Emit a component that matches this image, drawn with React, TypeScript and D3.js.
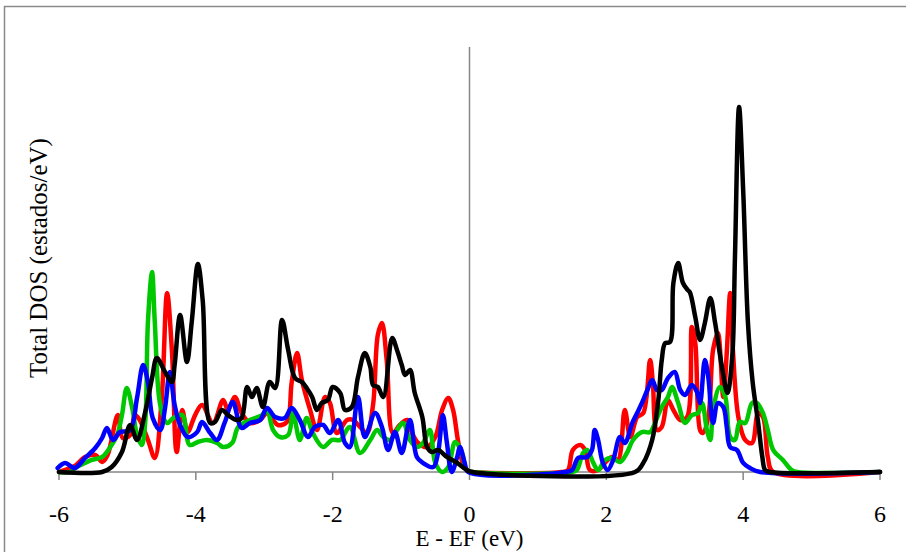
import React from "react";
import * as d3 from "d3";

// x: energy E - EF (eV), y: total DOS (estados/eV)
const xTicks = [-6, -4, -2, 0, 2, 4, 6];

const redSeries: [number, number][] = [
  [-6.0, 0], [-5.96, 0.07], [-5.77, 0.42], [-5.62, 1.06], [-5.47, 1.2], [-5.37, 0.71], [-5.29, 1.2],
  [-5.14, 4.02], [-5.07, 2.4], [-4.96, 2.61], [-4.89, 4.02], [-4.82, 3.67], [-4.7, 2.26], [-4.6, 0.99],
  [-4.5, 5.08], [-4.42, 12.63], [-4.35, 8.61], [-4.28, 1.41], [-4.2, 4.38], [-4.12, 2.82], [-4.01, 4.02],
  [-3.91, 4.73], [-3.75, 3.46], [-3.6, 5.08], [-3.53, 4.38], [-3.43, 5.29], [-3.33, 4.16], [-3.21, 3.46],
  [-3.06, 3.67], [-2.96, 4.16], [-2.87, 3.67], [-2.8, 3.32], [-2.67, 3.53], [-2.6, 6.28], [-2.52, 8.4],
  [-2.45, 6.49], [-2.33, 4.38], [-2.23, 2.96], [-2.11, 5.29], [-2.04, 4.87], [-1.94, 2.75], [-1.79, 3.67],
  [-1.7, 3.67], [-1.6, 3.18], [-1.5, 2.75], [-1.41, 4.73], [-1.34, 9.67], [-1.28, 10.52], [-1.21, 7.9],
  [-1.12, 2.75], [-1.02, 3.32], [-0.91, 3.67], [-0.84, 2.75], [-0.75, 2.05], [-0.62, 1.76], [-0.5, 2.47],
  [-0.4, 4.38], [-0.31, 5.22], [-0.24, 4.38], [-0.17, 2.26], [-0.1, 0.64], [-0.02, 0.07], [0.04, 0],
  [1.35, 0], [1.44, 0.14], [1.51, 1.55], [1.62, 1.91], [1.69, 1.55], [1.76, 0.14], [1.88, 0.14],
  [1.98, 0.64], [2.08, 1.06], [2.17, 0.85], [2.27, 4.38], [2.35, 2.47], [2.45, 3.88], [2.54, 4.16],
  [2.64, 7.9], [2.68, 6.28], [2.74, 2.96], [2.81, 3.18], [2.9, 5.08], [2.98, 4.38], [3.08, 3.67],
  [3.18, 3.88], [3.25, 10.23], [3.3, 9.1], [3.37, 2.96], [3.41, 2.75], [3.49, 3.88], [3.56, 8.61],
  [3.63, 9.81], [3.71, 5.29], [3.76, 8.4], [3.81, 12.63], [3.85, 8.61], [3.93, 3.88], [4.03, 2.26],
  [4.13, 2.05], [4.22, 4.16], [4.29, 3.88], [4.36, 1.06], [4.44, 0], [6.0, 0],
];

const greenSeries: [number, number][] = [
  [-6.0, 0], [-5.84, 0], [-5.77, 0.28], [-5.62, 0.64], [-5.52, 0.85], [-5.37, 1.06], [-5.26, 1.69],
  [-5.15, 2.61], [-5.08, 4.02], [-5.01, 5.93], [-4.93, 4.52], [-4.86, 2.61], [-4.79, 1.91], [-4.74, 3.53],
  [-4.7, 10.59], [-4.64, 14.11], [-4.6, 10.59], [-4.52, 4.73], [-4.42, 3.46], [-4.33, 3.81], [-4.2, 4.02],
  [-4.09, 1.91], [-3.97, 2.12], [-3.84, 2.26], [-3.69, 2.05], [-3.6, 1.76], [-3.47, 2.05], [-3.38, 3.18],
  [-3.21, 3.67], [-3.03, 4.02], [-2.96, 4.38], [-2.87, 2.96], [-2.77, 2.47], [-2.65, 2.61], [-2.58, 4.16],
  [-2.48, 2.26], [-2.38, 3.81], [-2.29, 2.75], [-2.14, 1.76], [-2.01, 2.26], [-1.89, 2.26], [-1.75, 3.18],
  [-1.6, 1.34], [-1.45, 2.26], [-1.35, 2.96], [-1.26, 2.47], [-1.16, 2.26], [-1.06, 2.96], [-0.97, 3.46],
  [-0.87, 2.26], [-0.77, 1.76], [-0.68, 2.05], [-0.58, 2.96], [-0.5, 0.64], [-0.4, 0], [-0.31, 0.35],
  [-0.21, 2.12], [-0.11, 1.34], [-0.04, 0.14], [0.04, 0],
  [1.5, 0], [1.57, 0.14], [1.66, 1.34], [1.72, 1.55], [1.81, 0.64], [1.88, 0.14], [1.98, 0.85],
  [2.08, 0.99], [2.2, 0.71], [2.3, 1.34], [2.39, 2.26], [2.52, 2.82], [2.64, 2.82], [2.71, 3.46],
  [2.81, 4.59], [2.9, 5.29], [2.96, 6.0], [3.05, 4.87], [3.15, 3.46], [3.25, 4.02], [3.34, 4.16],
  [3.4, 4.87], [3.47, 2.96], [3.52, 2.26], [3.56, 4.38], [3.66, 6.0], [3.74, 5.29], [3.81, 2.47],
  [3.88, 2.26], [3.95, 3.53], [4.03, 3.46], [4.13, 4.87], [4.2, 4.87], [4.29, 4.16], [4.36, 2.96],
  [4.44, 1.55], [4.58, 0.85], [4.71, 0.14], [4.79, 0], [6.0, 0],
];

const blueSeries: [number, number][] = [
  [-6.02, 0.28], [-5.91, 0.64], [-5.77, 0.28], [-5.62, 0.99], [-5.47, 1.69], [-5.37, 2.4], [-5.3, 3.11],
  [-5.21, 2.26], [-5.11, 2.82], [-4.96, 2.96], [-4.86, 5.22], [-4.77, 7.55], [-4.7, 6.35], [-4.63, 3.81],
  [-4.52, 2.96], [-4.45, 4.52], [-4.38, 7.06], [-4.31, 4.73], [-4.23, 3.32], [-4.12, 2.47], [-3.98, 2.82],
  [-3.91, 3.53], [-3.79, 2.75], [-3.69, 2.26], [-3.58, 3.46], [-3.46, 4.94], [-3.33, 3.11], [-3.21, 3.46],
  [-3.06, 3.67], [-2.96, 4.52], [-2.84, 3.88], [-2.7, 3.81], [-2.6, 4.52], [-2.48, 3.67], [-2.36, 2.47],
  [-2.26, 3.18], [-2.14, 3.32], [-2.04, 2.75], [-1.92, 3.67], [-1.82, 2.05], [-1.75, 1.76], [-1.63, 5.29],
  [-1.53, 2.47], [-1.38, 4.16], [-1.28, 3.18], [-1.19, 1.55], [-1.09, 2.82], [-0.99, 1.34], [-0.87, 3.67],
  [-0.77, 1.06], [-0.68, 0.64], [-0.53, 0.35], [-0.46, 1.34], [-0.39, 4.02], [-0.33, 2.05], [-0.26, 0],
  [-0.18, 1.06], [-0.14, 1.76], [-0.07, 0.64], [-0.02, 0],
  [1.41, 0], [1.5, 0.14], [1.59, 0.99], [1.72, 1.06], [1.79, 1.55], [1.83, 2.96], [1.88, 2.26],
  [1.95, 0.64], [2.02, 0.14], [2.1, 0.85], [2.2, 2.47], [2.27, 2.05], [2.38, 3.46], [2.45, 4.16],
  [2.52, 4.87], [2.6, 5.79], [2.67, 6.49], [2.74, 5.79], [2.81, 5.79], [2.9, 6.63], [3.0, 7.06],
  [3.08, 5.79], [3.15, 5.43], [3.25, 6.14], [3.33, 5.58], [3.37, 4.87], [3.44, 7.9], [3.49, 6.7],
  [3.56, 3.46], [3.63, 4.87], [3.71, 4.59], [3.76, 3.18], [3.81, 1.76], [3.91, 1.55], [4.0, 0.64],
  [4.1, 0.28], [4.25, 0], [6.0, 0],
];

const blackSeries: [number, number][] = [
  [-6.0, 0], [-5.37, 0], [-5.23, 0.35], [-5.08, 1.41], [-4.96, 3.32], [-4.86, 2.26], [-4.74, 4.23],
  [-4.64, 6.63], [-4.57, 8.05], [-4.45, 7.06], [-4.35, 6.35], [-4.31, 7.55], [-4.23, 11.08], [-4.13, 7.76],
  [-4.06, 10.59], [-3.97, 14.68], [-3.9, 12.14], [-3.79, 3.46], [-3.72, 3.53], [-3.62, 4.38], [-3.53, 4.02],
  [-3.4, 3.67], [-3.33, 3.81], [-3.25, 6.0], [-3.18, 5.29], [-3.11, 5.93], [-3.02, 4.59], [-2.92, 6.35],
  [-2.84, 5.93], [-2.74, 10.73], [-2.65, 8.61], [-2.55, 6.63], [-2.45, 6.35], [-2.38, 5.93], [-2.3, 5.29],
  [-2.23, 4.38], [-2.16, 4.87], [-2.07, 5.08], [-2.0, 6.0], [-1.89, 5.58], [-1.82, 4.38], [-1.72, 4.59],
  [-1.63, 6.7], [-1.53, 8.4], [-1.45, 7.41], [-1.41, 6.14], [-1.34, 6.0], [-1.26, 5.29], [-1.13, 9.46],
  [-1.06, 8.61], [-0.99, 7.55], [-0.94, 6.85], [-0.87, 7.2], [-0.8, 5.58], [-0.69, 3.88], [-0.62, 1.76],
  [-0.55, 1.41], [-0.46, 1.55], [-0.33, 1.06], [-0.18, 0.64], [-0.04, 0.14], [0.04, 0],
  [2.42, 0], [2.54, 0.64], [2.67, 2.26], [2.76, 5.08], [2.81, 7.9], [2.86, 9.1], [2.93, 9.17],
  [2.98, 13.34], [3.05, 14.75], [3.12, 13.34], [3.19, 12.84], [3.22, 12.7], [3.3, 10.94], [3.37, 9.32],
  [3.44, 10.52], [3.52, 12.28], [3.59, 10.52], [3.69, 7.41], [3.77, 5.58], [3.84, 8.12], [3.88, 15.17],
  [3.94, 25.76], [4.0, 19.9], [4.07, 10.52], [4.14, 6.28], [4.22, 3.46], [4.28, 1.06], [4.32, 0.14],
  [4.39, 0], [6.0, 0],
];

const seriesList: { data: [number, number][]; color: string }[] = [
  { data: redSeries, color: "#ff0000" },
  { data: greenSeries, color: "#00c800" },
  { data: blueSeries, color: "#0000ff" },
  { data: blackSeries, color: "#000000" },
];

const W = 906;
const H = 552;
const FONT = "Liberation Serif, Times New Roman, serif";

export default function App() {
  const x = d3.scaleLinear().domain([-6, 6]).range([59, 880]);
  const y = d3.scaleLinear().domain([0, 30]).range([472, 47]);
  const line = d3
    .line<[number, number]>()
    .x((d) => x(d[0]))
    .y((d) => Math.min(y(d[1]), 472))
    .curve(d3.curveCatmullRom.alpha(0.5));

  return (
    <svg
      width={W}
      height={H}
      style={{ position: "absolute", left: 0, top: 0, background: "#fff" }}
    >
      <rect x={0} y={0} width={W} height={H} fill="#fff" />
      <rect x={4.5} y={6.5} width={W + 20} height={H + 20} fill="none" stroke="#8a8a8a" strokeWidth={1.5} />
      {/* x axis */}
      <line x1={x(-6)} x2={x(6)} y1={y(0)} y2={y(0)} stroke="#868686" strokeWidth={1.5} />
      {xTicks.map((t) => (
        <line key={"t" + t} x1={x(t)} x2={x(t)} y1={y(0)} y2={y(0) + 8} stroke="#868686" strokeWidth={1.5} />
      ))}
      {/* y axis */}
      <line x1={x(0)} x2={x(0)} y1={y(30)} y2={y(0)} stroke="#868686" strokeWidth={1.5} />
      {seriesList.map((s, i) => (
        <path
          key={i}
          d={line(s.data) || ""}
          fill="none"
          stroke={s.color}
          strokeWidth={4.5}
          strokeLinejoin="round"
          strokeLinecap="round"
        />
      ))}
      {xTicks.map((t) => (
        <text
          key={"l" + t}
          x={x(t)}
          y={522}
          textAnchor="middle"
          style={{ fontFamily: FONT, fontSize: "24px" }}
          fill="#000"
        >
          {t < 0 ? "-" + Math.abs(t) : String(t)}
        </text>
      ))}
      <text
        x={x(0)}
        y={546}
        textAnchor="middle"
        style={{ fontFamily: FONT, fontSize: "23px" }}
        fill="#000"
      >
        E - EF (eV)
      </text>
      <text
        transform={`translate(47,258) rotate(-90)`}
        textAnchor="middle"
        style={{ fontFamily: FONT, fontSize: "25px" }}
        fill="#000"
      >
        Total DOS (estados/eV)
      </text>
    </svg>
  );
}
